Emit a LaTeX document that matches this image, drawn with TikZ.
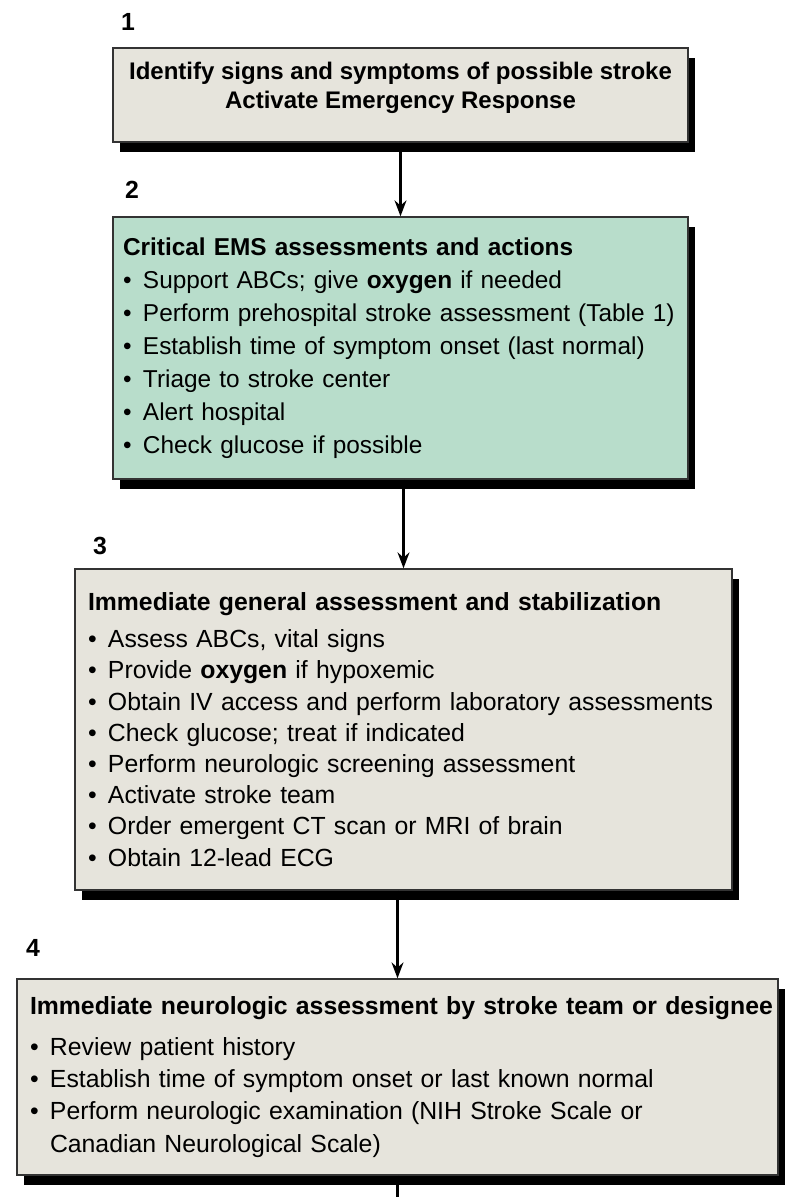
\documentclass[tikz,border=0pt]{standalone}
\usepackage{fontspec}
\setmainfont{Liberation Sans}
\usetikzlibrary{arrows.meta,shadows}

\definecolor{boxgray}{HTML}{E6E4DC}
\definecolor{emsgreen}{HTML}{B8DDCB}
\newcommand{\bul}{\makebox[10pt][l]{\textbullet}}
\hyphenpenalty=10000

\begin{document}
\begin{tikzpicture}[
  x=0.5pt, y=-0.5pt,
  >=Stealth,
% 1. Boxes with a solid black drop shadow
  stepbox/.style={
    draw=black!80,
    line width=0.7pt,
    fill=boxgray,
    inner xsep=6.5pt,
    inner ysep=0pt,
    align=left,
    drop shadow={shadow xshift=3.5pt, shadow yshift=-5pt, fill=black, opacity=1}
  },
% 2. Green box for the EMS step
  emsbox/.style={
    stepbox,
    fill=emsgreen,
    inner xsep=5pt
  },
% 3. Step numbers
  num_font/.style={
    font=\bfseries\fontsize{12.4}{14}\selectfont
  },
% 4. Connectors
  flow/.style={
    ->,
    line width=1.1pt
  }
]
  \useasboundingbox (0,0) rectangle (786,1197);
  \fill[white] (0,0) rectangle (786,1197);

  % Step numbers
  \node[num_font] (n1) at (128, 22) {1};
  \node[num_font] (n2) at (132, 190) {2};
  \node[num_font] (n3) at (100, 546) {3};
  \node[num_font] (n4) at (33, 948) {4};

  % Boxes
  \node[stepbox, align=center, minimum width=287.5pt, minimum height=47pt, text depth=10pt,
        font=\bfseries\fontsize{12}{14.5}\selectfont] (b1) at (400.5, 95)
    {Identify signs and symptoms of possible stroke\\Activate Emergency Response};

  \node[emsbox, minimum width=287.5pt, minimum height=131pt, text width=277.5pt,
        font=\fontsize{12.2}{16.5}\selectfont] (b2) at (400.5, 348)
    {\textbf{Critical EMS assessments and actions}\\
     \bul Support ABCs; give \textbf{oxygen} if needed\\
     \bul Perform prehospital stroke assessment (Table 1)\\
     \bul Establish time of symptom onset (last normal)\\
     \bul Triage to stroke center\\
     \bul Alert hospital\\
     \bul Check glucose if possible};

  \node[stepbox, minimum width=328.5pt, minimum height=160.5pt, text width=315.5pt,
        font=\fontsize{12.4}{15.6}\selectfont] (b3) at (403.5, 729.5)
    {\textbf{Immediate general assessment and stabilization}\\[3pt]
     \bul Assess ABCs, vital signs\\
     \bul Provide \textbf{oxygen} if hypoxemic\\
     \bul Obtain IV access and perform laboratory assessments\\
     \bul Check glucose; treat if indicated\\
     \bul Perform neurologic screening assessment\\
     \bul Activate stroke team\\
     \bul Order emergent CT scan or MRI of brain\\
     \bul Obtain 12-lead ECG};

  \node[stepbox, minimum width=380.5pt, minimum height=98pt, text width=367.5pt,
        font=\fontsize{12.4}{16.2}\selectfont] (b4) at (397.5, 1077)
    {\mbox{\textbf{Immediate neurologic assessment by stroke team or designee}}\\[4pt]
     \bul Review patient history\\
     \bul Establish time of symptom onset or last known normal\\
     \bul Perform neurologic examination (NIH Stroke Scale or\\
     \makebox[10pt]{}Canadian Neurological Scale)};

  % Connectors
  \coordinate (tail) at (397.5, 1197);
  \draw[flow] (b1) -- (b2);
  \draw[flow] (b3.north |- b2.south) -- (b3.north);
  \draw[flow] (b4.north |- b3.south) -- (b4.north);
  \draw[line width=1.1pt] (b4.south) -- (tail);

\end{tikzpicture}
\end{document}
